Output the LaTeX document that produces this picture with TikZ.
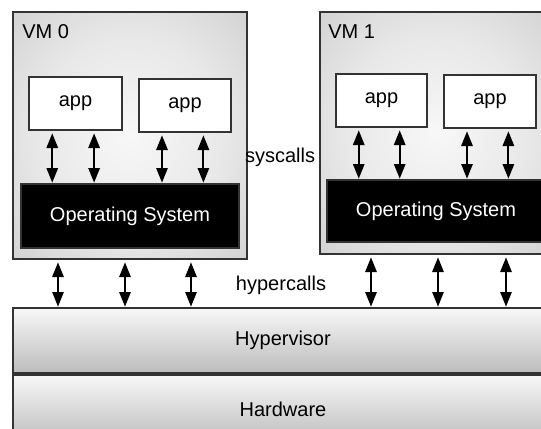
\documentclass[tikz,border=0pt]{standalone}
\usepackage{fontspec}
\setmainfont{Liberation Sans}
\usetikzlibrary{fit,calc,arrows.meta}

\pgfdeclareradialshading{vmshade}{\pgfpoint{0bp}{0bp}}{%
  color(0bp)=(black!3); color(20bp)=(black!9); color(50bp)=(black!25); color(71bp)=(black!29)}

\tikzset{
  txt/.style={font=\fontsize{15}{18}\selectfont, inner sep=0pt},
  box/.style={draw=black!80, line width=0.9pt, inner sep=0pt, outer sep=0pt},
  vmbox/.style={box, shading=vmshade},
  appbox/.style={box, fill=white},
  osbox/.style={box, fill=black},
  layer/.style={box, line width=1.1pt, top color=black!3, bottom color=black!26},
  dbl/.style={line width=1.4pt,
              {Triangle[width=8.5pt,length=11pt]}-{Triangle[width=8.5pt,length=11pt]},
              shorten <=2.5pt, shorten >=1pt}
}

\begin{document}
\begin{tikzpicture}[x=0.75pt, y=-0.75pt]
\useasboundingbox (0,0) rectangle (541,428);
\clip (0,0) rectangle (541,428);

% virtual machines
\node[vmbox, fit={(13,12) (247,259)}] (vm0) {};
\node[vmbox, fit={(320,12) (553,254)}] (vm1) {};
\node[txt, anchor=base west] (vm0lbl) at (22,39) {VM 0};
\node[txt, anchor=base west] (vm1lbl) at (328,39) {VM 1};

% applications
\node[appbox, fit={(29,77) (122,130)}] (a00) {};
\node[appbox, fit={(139,79) (231,132)}] (a01) {};
\node[appbox, fit={(336,74) (427,127)}] (a10) {};
\node[appbox, fit={(444,75) (536,128)}] (a11) {};
\foreach \a in {a00,a01,a10,a11}
  \node[txt] (\a txt) at (\a.center) {app};

% guest kernels
\node[osbox, fit={(21,184) (239,248)}] (os0) {};
\node[osbox, fit={(327,180) (545,242)}] (os1) {};
\node[txt, text=white] (os0txt) at (os0.center) {Operating System};
\node[txt, text=white] (os1txt) at (os1.center) {Operating System};

% lower layers
\node[layer, fit={(13,308) (553,373)}] (hv) {};
\node[layer, fit={(13,375) (553,442)}] (hw) {};
\node[txt] (hvtxt) at (hv.center) {Hypervisor};
\node[txt] (hwtxt) at (283,409) {Hardware};

% system calls between apps and their kernel
\foreach \a/\o in {a00/os0, a01/os0, a10/os1, a11/os1}{
  \foreach \f in {0.25, 0.7}{
    \coordinate (s) at ($(\a.south west)!\f!(\a.south east)$);
    \draw[dbl] (s) -- (s |- \o.north);
  }
}
\node[txt] (sys) at (280,157) {syscalls};

% hypercalls between guests and the hypervisor
\foreach \v/\d in {vm0/45, vm0/112, vm0/178, vm1/51, vm1/118, vm1/186}{
  \path (\v.south west) ++(\d,0) coordinate (h);
  \draw[dbl] (h) -- (h |- hv.north);
}
\node[txt] (hyp) at (281,285) {hypercalls};
\end{tikzpicture}
\end{document}
